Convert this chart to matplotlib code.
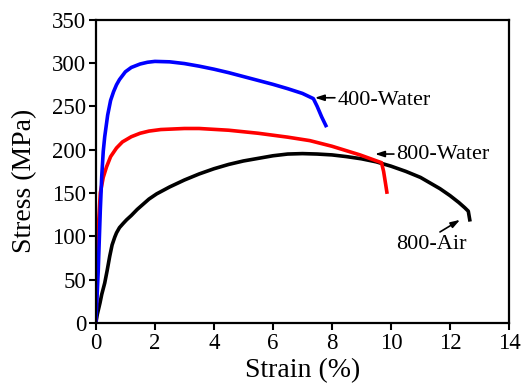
import matplotlib.pyplot as plt

plt.rcParams["font.family"] = ["Liberation Serif", "DejaVu Serif"]

# 400-Water
x_400w = [0, 0.08, 0.15, 0.2, 0.25, 0.3, 0.4, 0.5, 0.6, 0.7, 0.8, 1.0, 1.2,
          1.5, 1.75, 2.0, 2.5, 3.0, 3.5, 4.0, 4.5, 5.0, 5.5, 6.0, 6.5, 7.0,
          7.37, 7.5, 7.65, 7.82]
y_400w = [0, 60, 130, 170, 198, 215, 240, 257, 267, 275, 281, 290, 295,
          299, 301, 302, 301.5, 299.5, 296.5, 293, 289, 284.5, 280, 275.5,
          270.5, 265, 259, 250, 238, 226]

# 800-Water
x_800w = [0, 0.05, 0.1, 0.15, 0.25, 0.36, 0.5, 0.6, 0.7, 0.9, 1.2, 1.5, 1.8,
          2.2, 3.0, 3.5, 4.5, 5.5, 6.5, 7.25, 8.0, 8.95, 9.68, 9.75, 9.82,
          9.87]
y_800w = [0, 60, 120, 150, 168, 180, 192, 197, 202, 209, 215, 219, 221.5,
          223.3, 224.5, 224.5, 222.5, 219, 214.5, 210.5, 204, 194, 185, 175,
          160, 149]

# 800-Air
x_800a = [0, 0.05, 0.14, 0.2, 0.3, 0.38, 0.47, 0.55, 0.64, 0.7, 0.8, 0.93,
          1.04, 1.2, 1.4, 1.6, 1.8, 2.06, 2.5, 3.0, 3.5, 4.0, 4.5, 5.0, 5.5,
          6.0, 6.5, 7.0, 7.5, 8.0, 8.5, 9.0, 9.5, 10.0, 10.5, 11.0, 11.66,
          12.0, 12.3, 12.5, 12.62, 12.68]
y_800a = [0, 10, 23, 33, 46, 60, 77, 90, 99, 104, 110, 115, 119, 124, 131,
          137, 143, 149, 157, 165, 172, 178, 183, 187, 190, 193, 195, 195.5,
          195, 194, 192, 189.5, 186, 181, 175, 168, 155, 147, 139, 133, 129,
          117]

fig = plt.figure(figsize=(5.21, 3.89), dpi=100)
ax = fig.add_axes([0.184, 0.170, 0.793, 0.779])

ax.plot(x_800a, y_800a, color="black", lw=2.6, solid_capstyle="butt")
ax.plot(x_800w, y_800w, color="#ff0000", lw=2.6, solid_capstyle="butt")
ax.plot(x_400w, y_400w, color="#0000ff", lw=2.6, solid_capstyle="butt")

arrow = dict(arrowstyle="-|>,head_length=0.55,head_width=0.18", color="black",
             lw=1.2, shrinkA=0, shrinkB=0)
ax.annotate("", xy=(7.42, 260), xytext=(8.1, 260), arrowprops=arrow)
ax.text(8.2, 257, "400-Water", fontsize=16, va="center", ha="left")
ax.annotate("", xy=(9.46, 195), xytext=(10.1, 195), arrowprops=arrow)
ax.text(10.19, 194, "800-Water", fontsize=16, va="center", ha="left")
ax.annotate("", xy=(12.34, 119), xytext=(11.66, 105), arrowprops=arrow)
ax.text(11.36, 91, "800-Air", fontsize=16, va="center", ha="center")

ax.set_xlim(0, 14)
ax.set_ylim(0, 350)
ax.set_xticks(range(0, 15, 2))
ax.set_yticks(range(0, 351, 50))
ax.tick_params(direction="out", length=5, width=1.5, labelsize=16.5,
               top=False, right=False, pad=2)
for s in ax.spines.values():
    s.set_linewidth(1.6)

ax.set_xlabel("Strain (%)", fontsize=20)
ax.set_ylabel("Stress (MPa)", fontsize=20)
ax.xaxis.set_label_coords(0.5, -0.115)
ax.yaxis.set_label_coords(-0.143, 0.469)

fig.savefig("out.png", dpi=100)
